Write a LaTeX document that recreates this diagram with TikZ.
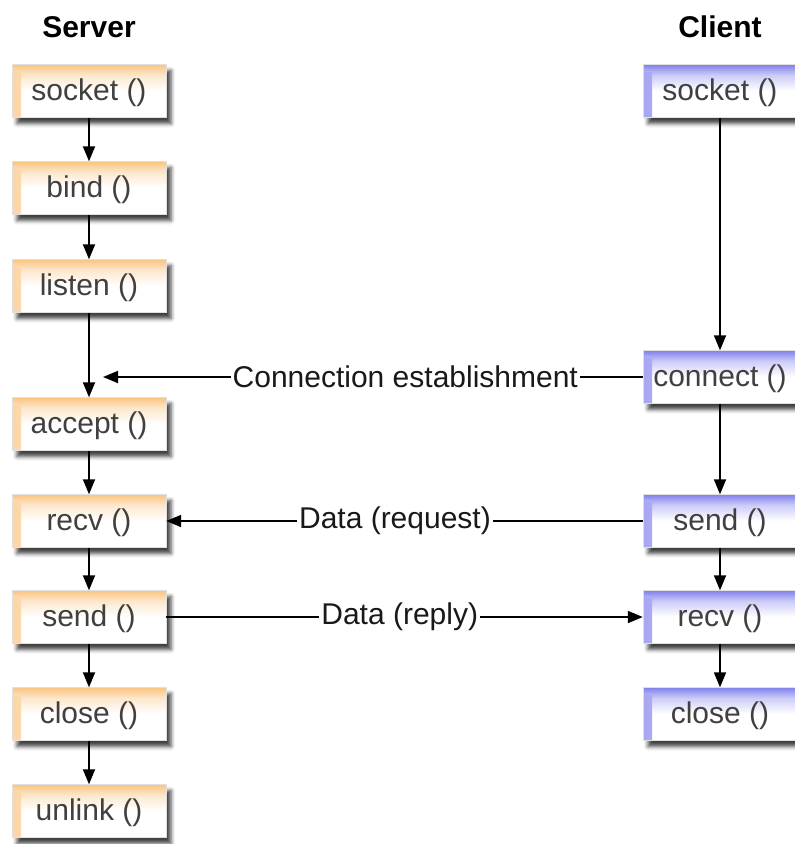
\documentclass[tikz,border=0pt]{standalone}
\usepackage{fontspec}
\setmainfont{Liberation Sans}
\usetikzlibrary{arrows.meta,shadows.blur}

\definecolor{srvtop}{RGB}{250,196,128}
\definecolor{clitop}{RGB}{128,128,236}
\pgfdeclareverticalshading{srvshade}{100bp}{color(0bp)=(white); color(50bp)=(white); color(65bp)=(srvtop!40); color(75bp)=(srvtop); color(100bp)=(srvtop)}
\pgfdeclareverticalshading{clishade}{100bp}{color(0bp)=(white); color(50bp)=(white); color(65bp)=(clitop!40); color(75bp)=(clitop); color(100bp)=(clitop)}

\begin{document}
\begin{tikzpicture}[x=1pt,y=-1pt,
		every node/.style={font=\fontsize{30}{34}\selectfont},
		box/.style={minimum width=154pt, minimum height=53pt, inner sep=0pt, text=black!75,
			draw=black!12, line width=0.4pt, shade, text depth=2pt,
			blur shadow={shadow xshift=5pt, shadow yshift=-6pt, shadow blur radius=4pt, shadow opacity=75}},
		srv/.style={box, shading=srvshade,
			path picture={\shade[left color=srvtop!70, right color=white] ([yshift=-8pt]path picture bounding box.north west) rectangle ([xshift=9pt]path picture bounding box.south west);}},
		cli/.style={box, shading=clishade,
			path picture={\shade[left color=clitop!70, right color=white] ([yshift=-8pt]path picture bounding box.north west) rectangle ([xshift=9pt]path picture bounding box.south west);}},
		hdr/.style={font=\fontsize{30}{34}\selectfont\bfseries},
		lbl/.style={fill=white, inner sep=2pt, text=black!90},
		flow/.style={line width=1.8pt, -{Triangle[length=15pt,width=12pt]}},
	]
	\useasboundingbox (0,0) rectangle (795,844);

	\node[hdr] (shead) at (89,27) {Server};
	\node[hdr] (chead) at (720,27) {Client};

	% server side
	\node[srv] (ssock) at (89,91) {socket ()};
	\node[srv] (sbind) at (89,188) {bind ()};
	\node[srv] (slisten) at (89,286) {listen ()};
	\node[srv] (saccept) at (89,424) {accept ()};
	\node[srv] (srecv) at (89,521) {recv ()};
	\node[srv] (ssend) at (89,617) {send ()};
	\node[srv] (sclose) at (89,714) {close ()};
	\node[srv] (sunlink) at (89,811) {unlink ()};

	% client side
	\node[cli] (csock) at (720,91) {socket ()};
	\node[cli] (cconn) at (720,377) {connect ()};
	\node[cli] (csend) at (720,521) {send ()};
	\node[cli] (crecv) at (720,617) {recv ()};
	\node[cli] (cclose) at (720,714) {close ()};

	\foreach \a/\b in {ssock/sbind, sbind/slisten, slisten/saccept, saccept/srecv,
		srecv/ssend, ssend/sclose, sclose/sunlink,
		csock/cconn, cconn/csend, csend/crecv, crecv/cclose}
		\draw[flow] (\a) -- (\b);

	\coordinate (cin) at (103,377);
	\draw[flow] (cconn.west) -- node[lbl, pos=0.44] {Connection establishment} (cin);
	\draw[flow] (csend.west) -- node[lbl, pos=0.52] {Data (request)} (srecv.east);
	\draw[flow] (ssend.east) -- node[lbl, pos=0.49] {Data (reply)} (crecv.west);
\end{tikzpicture}
\end{document}
